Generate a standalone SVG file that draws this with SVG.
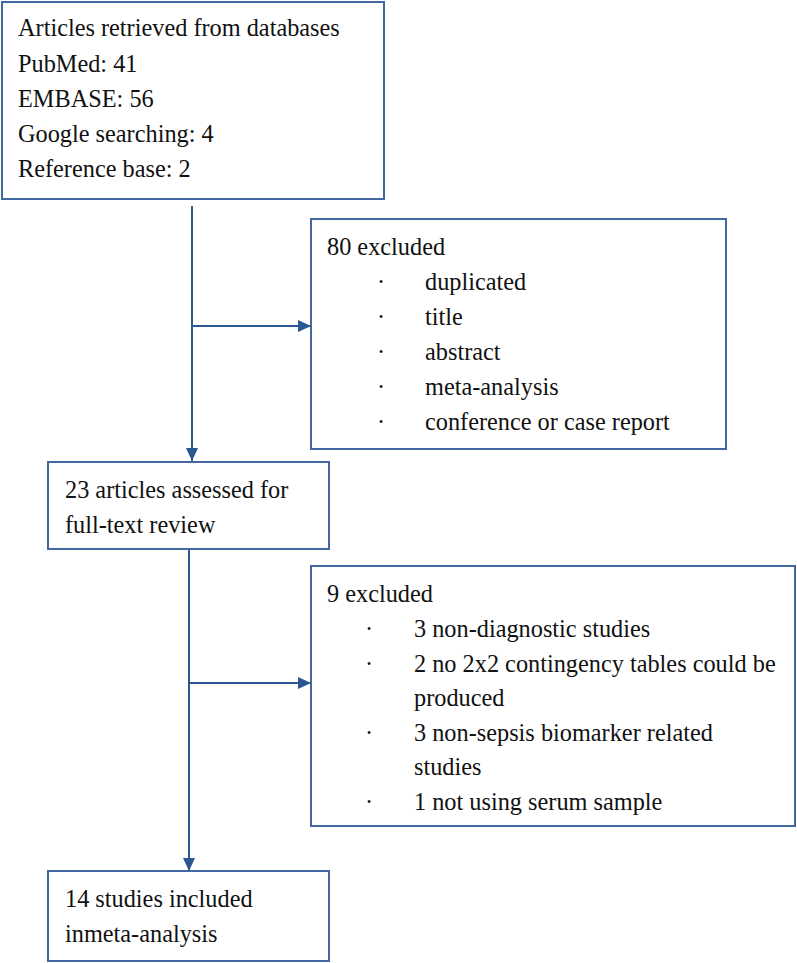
<svg xmlns="http://www.w3.org/2000/svg" width="797" height="963" viewBox="0 0 797 963">
<defs>
<style>
.box{fill:#fff;stroke:#41699F;stroke-width:2}
.t{font-family:"Liberation Serif","Times New Roman",serif;font-size:24.3px;fill:#111}
.c{stroke:#2C5792;stroke-width:2;fill:none}
</style>
<marker id="ah" markerWidth="13" markerHeight="12" refX="13" refY="6" orient="auto" markerUnits="userSpaceOnUse"><path d="M0,0 L13,6 L0,12 z" fill="#2C5792"/></marker>
</defs>
<rect width="797" height="963" fill="#fff"/>
<g id="connectors">
<line class="c" x1="192" y1="206" x2="192" y2="461" marker-end="url(#ah)"/>
<line class="c" x1="192" y1="326" x2="311" y2="326" marker-end="url(#ah)"/>
<line class="c" x1="189" y1="549" x2="189" y2="871" marker-end="url(#ah)"/>
<line class="c" x1="189" y1="683" x2="311" y2="683" marker-end="url(#ah)"/>
</g>
<g id="n1">
<rect class="box" x="2" y="2" width="382" height="197"/>
<text class="t" x="18" y="36">Articles retrieved from databases</text>
<text class="t" x="18" y="72">PubMed: 41</text>
<text class="t" x="18" y="107">EMBASE: 56</text>
<text class="t" x="18" y="142">Google searching: 4</text>
<text class="t" x="18" y="177">Reference base: 2</text>
</g>
<g id="n2">
<rect class="box" x="311" y="219" width="415" height="230"/>
<text class="t" x="327" y="255">80 excluded</text>
<text class="t" x="377" y="290">·</text><text class="t" x="425" y="290">duplicated</text>
<text class="t" x="377" y="325">·</text><text class="t" x="425" y="325">title</text>
<text class="t" x="377" y="360">·</text><text class="t" x="425" y="360">abstract</text>
<text class="t" x="377" y="395">·</text><text class="t" x="425" y="395">meta-analysis</text>
<text class="t" x="377" y="430">·</text><text class="t" x="425" y="430">conference or case report</text>
</g>
<g id="n3">
<rect class="box" x="48" y="462" width="281" height="87"/>
<text class="t" x="65" y="498">23 articles assessed for</text>
<text class="t" x="65" y="533">full-text review</text>
</g>
<g id="n4">
<rect class="box" x="311" y="566" width="484" height="260"/>
<text class="t" x="327" y="602">9 excluded</text>
<text class="t" x="365" y="637">·</text><text class="t" x="414" y="637">3 non-diagnostic studies</text>
<text class="t" x="365" y="672">·</text><text class="t" x="414" y="672">2 no 2x2 contingency tables could be</text>
<text class="t" x="414" y="706">produced</text>
<text class="t" x="365" y="741">·</text><text class="t" x="414" y="741">3 non-sepsis biomarker related</text>
<text class="t" x="414" y="775">studies</text>
<text class="t" x="365" y="810">·</text><text class="t" x="414" y="810">1 not using serum sample</text>
</g>
<g id="n5">
<rect class="box" x="48" y="871" width="281" height="90"/>
<text class="t" x="65" y="907">14 studies included</text>
<text class="t" x="65" y="942">inmeta-analysis</text>
</g>
</svg>
